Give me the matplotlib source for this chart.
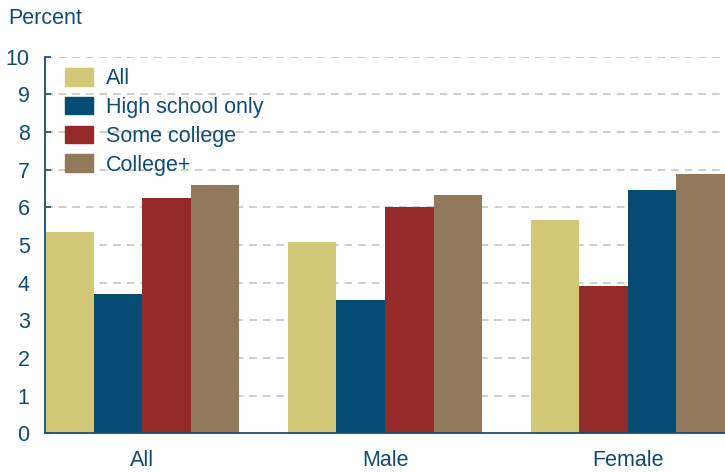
import matplotlib.pyplot as plt
import numpy as np

plt.rcParams['font.family'] = ['Liberation Sans', 'DejaVu Sans']

groups = ["All", "Male", "Female"]
series = ["All", "High school only", "Some college", "College+"]
colors = ["#D3C878", "#054C74", "#952A2A", "#93795C"]

# bar heights in the order they are drawn left to right in each group
vals_all = [5.34, 3.70, 6.24, 6.59]
vals_male = [5.08, 3.54, 6.01, 6.33]
vals_female = [5.66, 3.91, 6.46, 6.88]
# female group draws "Some college" colour in the second slot, "High school" in the third
order_female = [0, 2, 1, 3]

text_col = "#0F4C75"
axis_col = "#1B4F72"
fs = 15.5

fig = plt.figure(figsize=(7.25, 4.72), dpi=100)
ax = fig.add_axes([45 / 725, (472 - 433.3) / 472, 680 / 725, (433.3 - 56.7) / 472])

w = 0.2
x = np.arange(len(groups))
rows = [vals_all, vals_male, vals_female]
orders = [[0, 1, 2, 3], [0, 1, 2, 3], order_female]
for g, (vals, order) in enumerate(zip(rows, orders)):
    for i, v in enumerate(vals):
        ax.bar(x[g] + (i - 1.5) * w, v, width=w, color=colors[order[i]], zorder=3)

ax.set_xlim(-0.4, 2.4)
ax.set_ylim(0, 10)
ax.set_yticks(range(0, 11))
ax.set_xticks(x)
ax.set_xticklabels(groups)

for y in range(1, 11):
    ax.axhline(y, color="#CFCFC8", lw=1.4, ls=(0, (4, 3)), zorder=1)

for s in ["top", "right"]:
    ax.spines[s].set_visible(False)
for s in ["left", "bottom"]:
    ax.spines[s].set_color(axis_col)
    ax.spines[s].set_linewidth(1.3)
    ax.spines[s].set_zorder(4)

ax.tick_params(axis="y", direction="in", length=4, width=1.2, color=axis_col,
               labelsize=fs, labelcolor=text_col, pad=11)
ax.tick_params(axis="x", length=0, labelsize=fs, labelcolor=text_col, pad=12)

handles = [plt.Rectangle((0, 0), 1, 1, color=c) for c in colors]
ax.legend(handles, series, loc="upper left",
          bbox_to_anchor=((65 - 45) / 680, 1 - (68 - 56.7) / 376.6),
          frameon=False, fontsize=fs, labelcolor=text_col,
          handlelength=1.3, handleheight=0.88, handletextpad=0.6,
          labelspacing=0.35, borderpad=0, borderaxespad=0)

fig.text(8 / 725, 1 - 18 / 472, "Percent", ha="left", va="center",
         fontsize=fs, color=text_col)

fig.savefig("out.png", dpi=100)
